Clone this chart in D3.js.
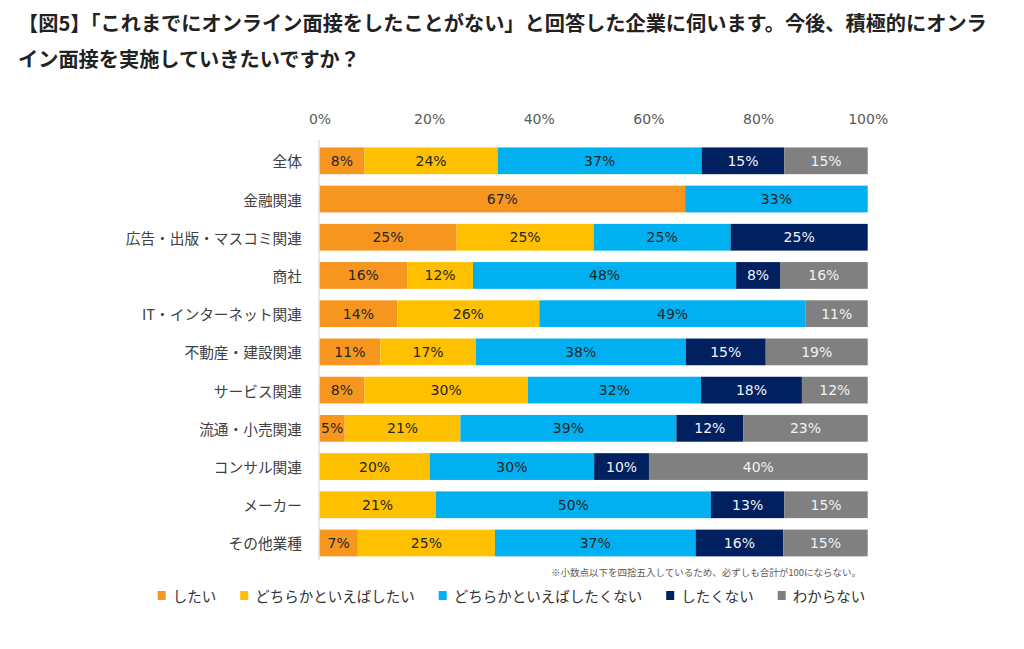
<!DOCTYPE html>
<html>
<head>
<meta charset="utf-8">
<script src="https://cdn.jsdelivr.net/npm/d3@7"></script>
<style>
  html, body { margin: 0; padding: 0; background: #fff; }
  svg { display: block; }
</style>
</head>
<body>
<svg id="chart" width="1024" height="649"></svg>
<script>
const titleLines = [
  "【図5】「これまでにオンライン面接をしたことがない」と回答した企業に伺います。今後、積極的にオンラ",
  "イン面接を実施していきたいですか？"
];
const categories = ["全体","金融関連","広告・出版・マスコミ関連","商社","IT・インターネット関連","不動産・建設関連","サービス関連","流通・小売関連","コンサル関連","メーカー","その他業種"];
const seriesNames = ["したい","どちらかといえばしたい","どちらかといえばしたくない","したくない","わからない"];
const shitai            = [8.2, 66.7, 25, 16, 14.2, 11.1, 8.2, 4.6, 0, 0, 7.0];
const dochiraShitai     = [24.3, 0, 25, 12, 25.9, 17.4, 29.8, 21.1, 20.1, 21.2, 25.0];
const dochiraShitakunai = [37.2, 33.3, 25, 48, 48.6, 38.3, 31.6, 39.4, 30.0, 50.2, 36.6];
const shitakunai        = [15.1, 0, 25, 8, 0, 14.6, 18.4, 12.2, 10.0, 13.4, 16.0];
const wakaranai         = [15.2, 0, 0, 16, 11.3, 18.6, 12.0, 22.7, 39.9, 15.2, 15.4];
const tickValues = [0, 20, 40, 60, 80, 100];
const footnote = "※小数点以下を四捨五入しているため、必ずしも合計が100にならない。";

const colors = ["#F7961E", "#FFC000", "#00B0F0", "#002060", "#808080"];
const labelColors = ["#262626", "#262626", "#262626", "#f2f2f2", "#f2f2f2"];
const seriesValues = [shitai, dochiraShitai, dochiraShitakunai, shitakunai, wakaranai];

const rows = categories.map((c, i) => {
  const r = { cat: c };
  seriesNames.forEach((s, k) => r[s] = seriesValues[k][i]);
  return r;
});
const stacked = d3.stack().keys(seriesNames)(rows);

const svg = d3.select("#chart");
const cjk = "'Noto Sans CJK JP', 'Noto Sans', sans-serif";
const num = "'DejaVu Sans', Verdana, sans-serif";

// Title
svg.append("g").selectAll("text").data(titleLines).join("text")
  .attr("x", 18).attr("y", (d, i) => 22 + i * 36)
  .attr("dominant-baseline", "central")
  .attr("font-family", cjk).attr("font-weight", 700).attr("font-size", 20.2)
  .attr("fill", "#222").text(d => d);

const x = d3.scaleLinear().domain([0, 100]).range([319.5, 867.7]);
const y = d3.scaleBand().domain(categories).range([141.7, 562.1]).paddingInner(0.3).paddingOuter(0.15);

// Top axis
const xAxis = svg.append("g").attr("transform", "translate(0,128)")
  .call(d3.axisTop(x).tickValues(tickValues).tickFormat(d => d + "%").tickSize(0).tickPadding(4));
xAxis.select(".domain").remove();
xAxis.selectAll("text").attr("font-family", num).attr("font-size", 14).attr("fill", "#595959");

// Bars
const layers = svg.append("g").selectAll("g").data(stacked).join("g")
  .attr("fill", (d, i) => colors[i]);
layers.selectAll("rect").data(d => d.filter(p => p[1] - p[0] > 0)).join("rect")
  .attr("x", p => x(p[0]))
  .attr("y", p => y(p.data.cat))
  .attr("width", p => x(p[1]) - x(p[0]))
  .attr("height", y.bandwidth());

// Labels
const lbl = svg.append("g").selectAll("g").data(stacked).join("g")
  .attr("fill", (d, i) => labelColors[i]);
lbl.selectAll("text").data(d => d.filter(p => p[1] - p[0] > 0)).join("text")
  .attr("x", p => (x(p[0]) + x(p[1])) / 2)
  .attr("y", p => y(p.data.cat) + y.bandwidth() / 2 + 5)
  .attr("text-anchor", "middle")
  .attr("font-family", num).attr("font-size", 14)
  .text(p => Math.round(p[1] - p[0]) + "%");

// Vertical axis line
svg.append("line").attr("x1", x(0) - 0.5).attr("x2", x(0) - 0.5)
  .attr("y1", 140).attr("y2", 560).attr("stroke", "#d9d9d9").attr("stroke-width", 1.2);

// Category labels
svg.append("g").selectAll("text").data(categories).join("text")
  .attr("x", 302).attr("y", d => y(d) + y.bandwidth() / 2)
  .attr("dominant-baseline", "central").attr("text-anchor", "end")
  .attr("font-family", cjk).attr("font-size", 14.7).attr("fill", "#404040")
  .text(d => d);

// Footnote
svg.append("text").attr("x", 861).attr("y", 572)
  .attr("dominant-baseline", "central").attr("text-anchor", "end")
  .attr("font-family", cjk).attr("font-size", 9.5).attr("fill", "#595959")
  .text(footnote);

// Legend
const lg = svg.append("g");
let lx = 157.7;
seriesNames.forEach((s, i) => {
  lg.append("rect").attr("x", lx).attr("y", 591).attr("width", 8).attr("height", 9).attr("fill", colors[i]);
  const t = lg.append("text").attr("x", lx + 15).attr("y", 595)
    .attr("dominant-baseline", "central")
    .attr("font-family", cjk).attr("font-size", 14.5).attr("fill", "#333").text(s);
  lx += 15 + t.node().getComputedTextLength() + 24;
});
</script>
</body>
</html>
